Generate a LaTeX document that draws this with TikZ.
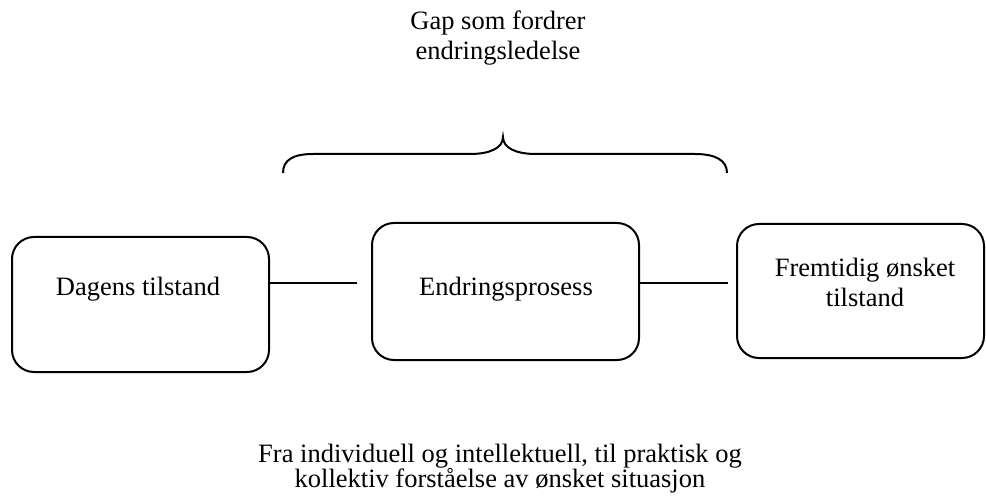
\documentclass[tikz,border=0pt]{standalone}
\usepackage{fontspec}
\setmainfont{Liberation Serif}
\begin{document}
\begin{tikzpicture}[x=1pt,y=-1pt,
  stagebox/.style={draw=black,line width=2pt,rounded corners=22pt,inner sep=0pt},
  caption/.style={font=\fontsize{26.5}{30}\selectfont,align=center,inner sep=0pt,anchor=base},
  link/.style={draw=black,line width=2pt}]
  \useasboundingbox (0,0) rectangle (986,497);

  % the three stages
  \node[stagebox,minimum width=257pt,minimum height=135pt] (b1) at (140.5,304.5) {};
  \node[stagebox,minimum width=267pt,minimum height=137pt] (b2) at (505.5,291.5) {};
  \node[stagebox,minimum width=247pt,minimum height=134pt] (b3) at (860.5,291) {};

  \node[caption] (t1) at (138,295) {Dagens tilstand};
  \node[caption] (t2) at (506,295) {Endringsprosess};
  \node[caption,anchor=north] (t3) at (865,258) {Fremtidig ønsket\\tilstand};

  % connectors ending just short of the next stage
  \coordinate (e1) at (357,283);
  \coordinate (e2) at (728,283);
  \draw[link] (b1.east |- e1) -- (e1);
  \draw[link] (b2.east |- e2) -- (e2);

  % brace spanning the change gap
  \coordinate (bl) at (283,173);
  \coordinate (br) at (727,173);
  \coordinate (bt) at (503,137);
  \draw[line width=2pt]
    (bl) .. controls (283,160) and (293,154) .. (313,154)
    -- (470,154) .. controls (490,154) and (503,148) .. (bt)
    .. controls (503,148) and (516,154) .. (536,154)
    -- (695,154) .. controls (715,154) and (727,160) .. (br);

  % captions above and below
  \node[caption,anchor=north] (top) at (498,11) {Gap som fordrer\\endringsledelse};
  \node[caption,anchor=north,font=\fontsize{26.5}{25}\selectfont] (bot) at (500,444) {Fra individuell og intellektuell, til praktisk og\\kollektiv forståelse av ønsket situasjon};
\end{tikzpicture}
\end{document}
